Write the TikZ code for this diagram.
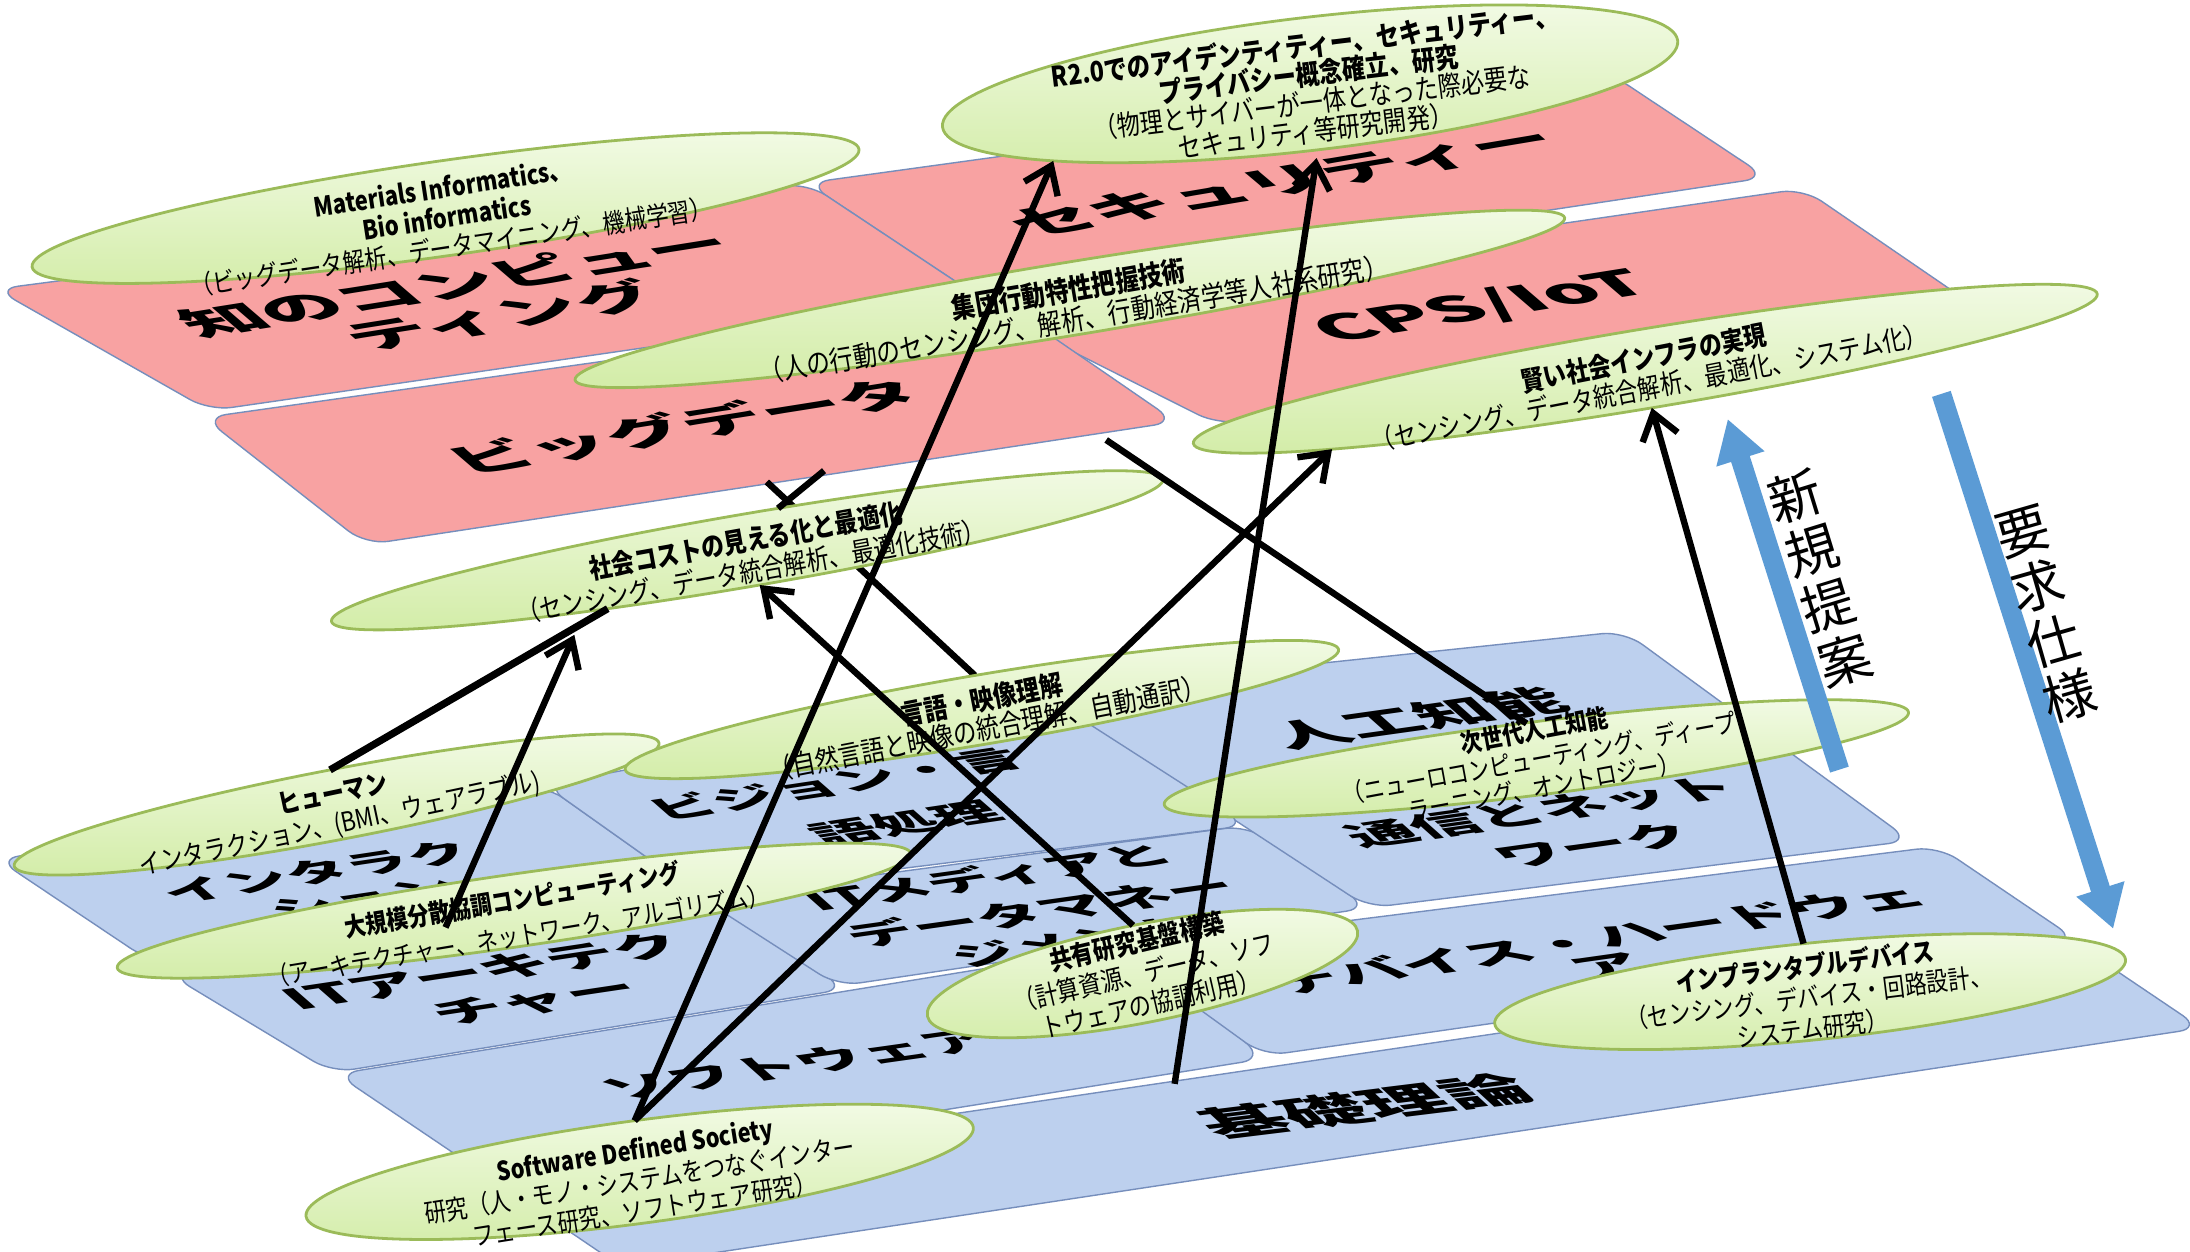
\documentclass[tikz,border=0pt]{standalone}
\usepackage{fontspec}
\setmainfont{Noto Sans CJK JP}
\newfontfamily\ellfont{Noto Sans CJK JP}[FakeStretch=0.83]
\newfontfamily\tilefont{Noto Sans CJK JP}
\usetikzlibrary{arrows.meta,shapes.geometric}
\pgfdeclarelayer{tiles}
\pgfdeclarelayer{under}
\pgfsetlayers{tiles,under,main}
\definecolor{pinkfill}{RGB}{248,162,162}
\definecolor{bluefill}{RGB}{189,208,238}
\definecolor{tileedge}{RGB}{118,142,188}
\definecolor{ellA}{RGB}{243,251,231}
\definecolor{ellB}{RGB}{212,237,170}
\definecolor{elledge}{RGB}{155,187,89}
\definecolor{arrowblue}{RGB}{91,155,213}
\tikzset{
  tile/.style={draw=tileedge, line width=0.5pt, rounded corners=8pt},
  pinktile/.style={tile, fill=pinkfill},
  bluetile/.style={tile, fill=bluefill},
  ellnode/.style={ellipse, draw=elledge, line width=1pt, top color=ellA, bottom color=ellB, inner sep=0pt, outer sep=0pt},
  elltext/.style={align=center, inner sep=0pt, text=black},
  ef/.style 2 args={font=\ellfont\fontsize{#1}{#2}\selectfont},
  conn/.style={draw=black, line width=2.3pt},
  arr/.style={-{Straight Barb[length=9pt,width=13pt]}},
  bigarrow/.style={draw=arrowblue, line width=7pt, -{Triangle[length=15pt,width=17pt]}},
  vtext/.style={align=center, inner sep=0pt, font=\tilefont\fontsize{19}{20.5}\selectfont}
}
\newcommand\tiletext[6]{%
  \node[inner sep=0pt, text=black, rotate=#4, xslant=-0.85, yscale=0.45,
        font=\tilefont\bfseries\fontsize{#5}{#5}\selectfont] (#1) at (#2,#3) {#6};}
\begin{document}
\begin{tikzpicture}[x=0.5pt,y=-0.5pt]
\useasboundingbox (0,0) rectangle (1568,896);
\begin{pgfonlayer}{tiles}
\fill[white] (0,0) rectangle (1568,896);
% ---- pink layer
\path[pinktile] (705,220) -- (1291,135) -- (1418,222) -- (872,304) -- cycle;
\path[pinktile] (578,131) -- (1152,52) -- (1265,127) -- (700,212) -- cycle;
\path[pinktile] (146,299) -- (720,218) -- (842,302) -- (262,390) -- cycle;
\path[pinktile] (-3,207) -- (578,131) -- (703,214) -- (150,294) -- cycle;
\tiletext{ta1}{326}{203}{9}{28}{知のコンピュー}
\tiletext{ta2}{359}{226}{9}{28}{ティング}
\tiletext{tc}{490}{305}{9}{28}{ビッグデータ}
\tiletext{tb}{918}{130}{9.5}{28}{セキュリティー}
\tiletext{td}{1061}{220}{9}{30}{CPS/IoT}
% ---- blue layer
\path[bluetile] (355,846) -- (1490,678) -- (1576,736) -- (445,907) -- cycle;
\path[bluetile] (241,769) -- (812,676) -- (905,758) -- (355,846) -- cycle;
\path[bluetile] (800,680) -- (1388,606) -- (1487,673) -- (905,756) -- cycle;
\path[bluetile] (122,698) -- (515,650) -- (606,708) -- (238,768) -- cycle;
\path[bluetile] (502,643) -- (893,591) -- (980,650) -- (600,706) -- cycle;
\path[bluetile] (745,496) -- (1163,452) -- (1368,602) -- (980,650) -- cycle;
\path[bluetile] (-2,615) -- (390,562) -- (500,640) -- (107,688) -- cycle;
\path[bluetile] (390,562) -- (745,496) -- (893,591) -- (500,640) -- cycle;
\tiletext{te1}{227}{624}{8.5}{22}{インタラク}
\tiletext{te2}{261}{644}{8.5}{22}{ション}
\tiletext{tf1}{598}{561}{8.5}{22}{ビジョン・言}
\tiletext{tf2}{648}{589}{8.5}{22}{語処理}
\tiletext{tg}{1015}{514}{8}{26}{人工知能}
\tiletext{tj1}{1103}{581}{8}{23}{通信とネット}
\tiletext{tj2}{1141}{605}{8}{23}{ワーク}
\tiletext{th1}{346}{695}{8.5}{24}{ITアーキテク}
\tiletext{th2}{383}{717}{8.5}{24}{チャー}
\tiletext{ti1}{707}{628}{8}{22}{ITメディアと}
\tiletext{ti2}{745}{652}{8}{23}{データマネー}
\tiletext{ti3}{770}{674}{8}{22}{ジメント}
\tiletext{tk}{571}{762}{8}{23}{ソフトウェア}
\tiletext{tl1}{1143}{672}{8}{23.5}{デバイス・ハードウェ}
\tiletext{tl2}{1152}{692}{8}{23.5}{ア}
\tiletext{tm}{977}{792}{7}{29}{基礎理論}
\end{pgfonlayer}
% ---- ellipses
\node[ellnode, minimum width=299pt, minimum height=34pt, rotate=8.1] (e1) at (319,149) {};
\node[ellnode, minimum width=265pt, minimum height=47.6pt, rotate=6.7] (e2) at (938,60) {};
\node[ellnode, minimum width=359pt, minimum height=26.2pt, rotate=9.3] (e3) at (766,214) {};
\node[ellnode, minimum width=328pt, minimum height=28.4pt, rotate=9.4] (e4) at (1178,264) {};
\node[ellnode, minimum width=302pt, minimum height=26pt, rotate=9.7] (e5) at (535,394) {};
\node[ellnode, minimum width=235pt, minimum height=25.2pt, rotate=10.8] (e7) at (241,576) {};
\node[ellnode, minimum width=259pt, minimum height=24.9pt, rotate=9.55] (e6) at (703,508) {};
\node[ellnode, minimum width=287pt, minimum height=26pt, rotate=8.2] (e8) at (368,652) {};
\node[ellnode, minimum width=268.5pt, minimum height=26.2pt, rotate=7.06] (e9) at (1100,543) {};
\node[ellnode, minimum width=157pt, minimum height=35.1pt, rotate=11.2] (e10) at (818,697) {};
\node[ellnode, minimum width=227pt, minimum height=34.7pt, rotate=5.8] (e11) at (1296,710) {};
\node[ellnode, minimum width=241pt, minimum height=36.8pt, rotate=7.6] (e12) at (458,839) {};
% ---- ellipse texts
\node[elltext, ef={9.5}{10.7}, rotate=8.6] (x1) at (320,156) {{\bfseries Materials Informatics、}\\{\bfseries Bio informatics}\\（ビッグデータ解析、データマイニング、機械学習）};
\node[elltext, ef={10}{10.2}, rotate=7] (x2) at (938,63) {{\bfseries R2.0でのアイデンティティー、セキュリティー、}\\{\bfseries プライバシー概念確立、研究}\\（物理とサイバーが一体となった際必要な\\セキュリティ等研究開発）};
\node[elltext, ef={10.2}{11}, rotate=9.7] (x3) at (767,218) {{\bfseries 集団行動特性把握技術}\\（人の行動のセンシング、解析、行動経済学等人社系研究）};
\node[elltext, ef={9.8}{10.8}, rotate=11] (x4) at (1179,267) {{\bfseries 賢い社会インフラの実現}\\（センシング、データ統合解析、最適化、システム化）};
\node[elltext, ef={9.8}{11}, rotate=10.2] (x5) at (536,398) {{\bfseries 社会コストの見える化と最適化}\\（センシング、データ統合解析、最適化技術）};
\node[elltext, ef={10.1}{10.5}, rotate=11] (x6) at (705,511) {{\bfseries 言語・映像理解}\\（自然言語と映像の統合理解、自動通訳）};
\node[elltext, ef={9.6}{11}, rotate=12] (x7) at (241,580) {{\bfseries ヒューマン}\\インタラクション、(BMI、ウェアラブル)};
\node[elltext, ef={9.2}{13}, rotate=9.5] (x8) at (369,657) {{\bfseries 大規模分散協調コンピューティング}\\（アーキテクチャー、ネットワーク、アルゴリズム）};
\node[elltext, ef={9.2}{10.3}, rotate=10.5] (x9) at (1102,543) {{\bfseries 次世代人工知能}\\（ニューロコンピューティング、ディープ\\ラーニング、オントロジー）};
\node[elltext, ef={9.6}{11.4}, rotate=13] (x10) at (819,696) {{\bfseries 共有研究基盤構築}\\（計算資源、データ、ソフ\\トウェアの協調利用）};
\node[elltext, ef={9.4}{11.2}, rotate=7] (x11) at (1295,714) {{\bfseries インプランタブルデバイス}\\（センシング、デバイス・回路設計、\\システム研究）};
\node[elltext, ef={9.4}{10.8}, rotate=9] (x12) at (458,845) {{\bfseries Software Defined Society}\\研究（人・モノ・システムをつなぐインター\\フェース研究、ソフトウェア研究）};
% ---- connectors
\coordinate (c2) at (319,664);
\coordinate (c3) at (549,345);
\coordinate (c4a) at (1093,518);
\coordinate (c4b) at (792,315);
\coordinate (c8) at (841,776);
\coordinate (c10) at (590,337);
\begin{pgfonlayer}{under}
\draw[conn] (e6.92) -- (c3);
\end{pgfonlayer}
\draw[conn] (e5.44) -- (c10);
\draw[conn, line width=2.6pt] (e7.90) -- (e5.193);
\draw[conn, arr, shorten >=9pt] (c2) -- (e5.191);
\draw[conn] (c4a) -- (c4b);
\draw[conn, arr] (e10.90) -- (e5.280);
\draw[conn, arr] (e12.88) -- (e2.190);
\draw[conn, arr] (e12.88) -- (e4.185);
\draw[conn, arr, shorten >=3pt] (c8) -- (e2.270);
\draw[conn, arr] (e11.92) -- (e4.270);
% ---- big blue arrows
\coordinate (na1) at (1317,551);
\coordinate (na2) at (1237,300);
\coordinate (ya1) at (1390,282);
\coordinate (ya2) at (1513,665);
\draw[bigarrow] (na1) -- (na2);
\draw[bigarrow] (ya1) -- (ya2);
\node[vtext, rotate=17.1] (shinki) at (1303,414) {新\\規\\提\\案};
\node[vtext, rotate=16] (yokyu) at (1465,440) {要\\求\\仕\\様};
\end{tikzpicture}
\end{document}
